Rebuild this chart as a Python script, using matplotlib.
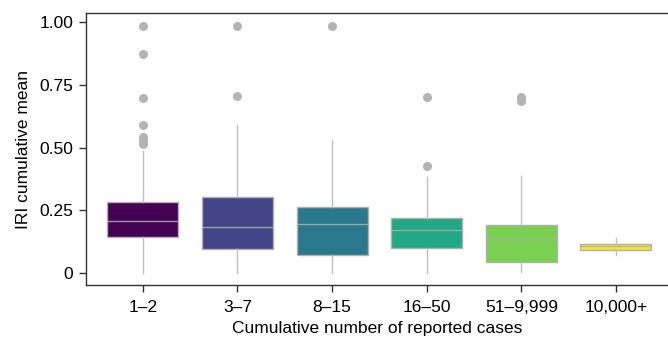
import matplotlib.pyplot as plt

plt.rcParams["font.family"] = ["Liberation Sans", "DejaVu Sans"]

# box statistics
groups = ["1–2", "3–7", "8–15", "16–50", "51–9,999", "10,000+"]
q1 = [0.142, 0.094, 0.072, 0.098, 0.043, 0.092]
med = [0.208, 0.184, 0.194, 0.171, 0.134, 0.109]
q3 = [0.284, 0.304, 0.264, 0.220, 0.191, 0.117]
whislo = [0.0, 0.0, 0.0, 0.0, 0.004, 0.072]
whishi = [0.486, 0.590, 0.530, 0.384, 0.386, 0.141]
fliers = [
    [0.984, 0.871, 0.698, 0.590, 0.543, 0.526, 0.513],
    [0.984, 0.704],
    [0.984],
    [0.700, 0.428],
    [0.702, 0.695, 0.686],
    [],
]
colors = ["#440154", "#414487", "#2A788E", "#22A884", "#7AD151", "#FDE725"]

stats = []
for i, g in enumerate(groups):
    stats.append(
        {
            "label": g,
            "q1": q1[i],
            "med": med[i],
            "q3": q3[i],
            "whislo": whislo[i],
            "whishi": whishi[i],
            "fliers": fliers[i],
        }
    )

fig = plt.figure(figsize=(6.68, 3.39), dpi=100)
ax = fig.add_axes([0.1287, 0.159, 0.8713, 0.8027])

bp = ax.bxp(
    stats,
    positions=range(len(groups)),
    widths=0.75,
    patch_artist=True,
    showcaps=False,
    boxprops=dict(edgecolor="#b0b0b0", linewidth=1.0),
    medianprops=dict(color="#b0b0b0", linewidth=1.0, alpha=0.85),
    whiskerprops=dict(color="#c0c0c0", linewidth=1.0),
    flierprops=dict(
        marker="o",
        markerfacecolor="#b4b4b4",
        markeredgecolor="none",
        markersize=6.5,
    ),
)
for patch, c in zip(bp["boxes"], colors):
    patch.set_facecolor(c)

ax.set_xlim(-0.6, 5.55)
ax.set_ylim(-0.048, 1.036)
ax.set_yticks([0, 0.25, 0.5, 0.75, 1.0])
ax.set_yticklabels(["0", "0.25", "0.50", "0.75", "1.00"])
ax.set_xticks(range(len(groups)))
ax.set_xticklabels(groups)

ax.tick_params(axis="both", labelsize=12.5, length=5, width=1, color="#333333",
               direction="out", pad=4)
ax.tick_params(axis="x", pad=6)
ax.spines["right"].set_visible(False)
for s in ["left", "top", "bottom"]:
    ax.spines[s].set_color("#333333")
    ax.spines[s].set_linewidth(1.0)

ax.set_xlabel("Cumulative number of reported cases", fontsize=12.5, labelpad=4)
ax.set_ylabel("IRI cumulative mean", fontsize=12.5, labelpad=6)

fig.savefig("out.png", dpi=100)
